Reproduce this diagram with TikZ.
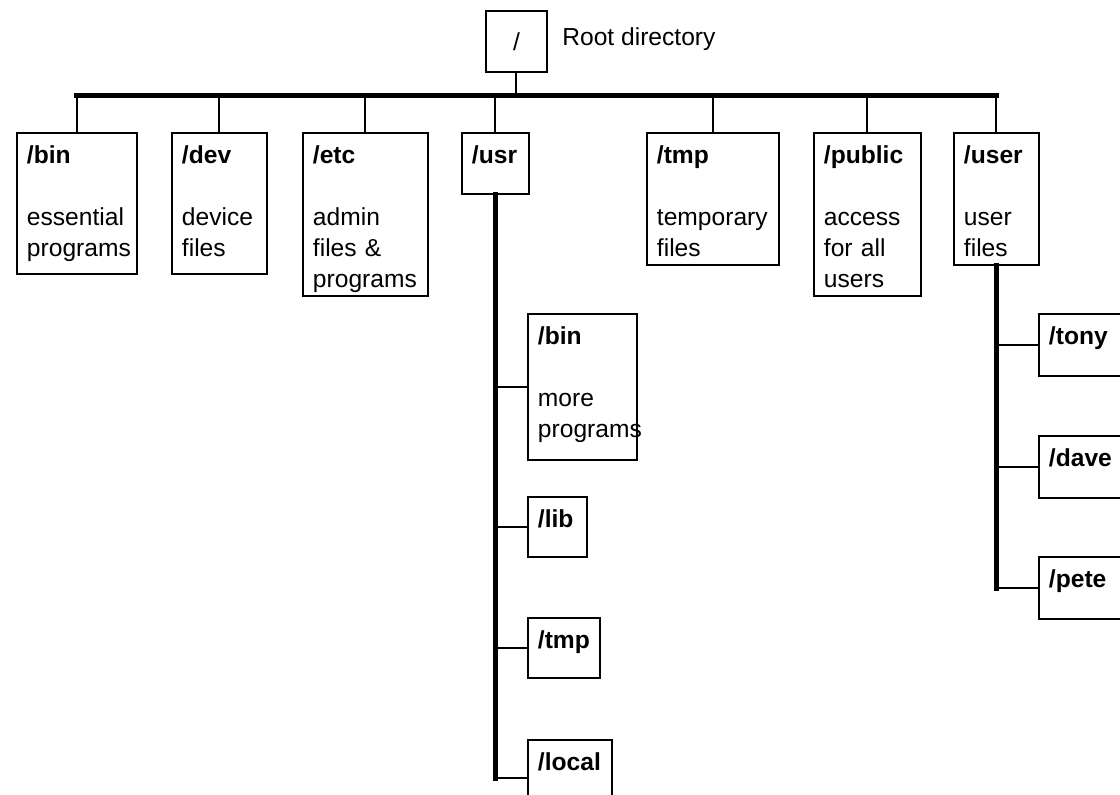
\documentclass[tikz,border=0pt]{standalone}
\usepackage{fontspec}
\setmainfont{Liberation Sans}
\newcommand{\dirfont}{\fontsize{14}{17.64}\selectfont}
\hyphenpenalty=10000
\tikzset{
  dirbox/.style = {draw, line width=1.1pt, anchor=north west, align=left,
                   inner xsep=0.2cm, inner ysep=0pt, text height=0.62cm,
                   font=\dirfont},
  rootbox/.style= {draw, line width=1.1pt, anchor=north west,
                   minimum size=1.22cm, inner sep=0pt, font=\dirfont},
  note/.style   = {anchor=base west, inner sep=0pt, font=\dirfont},
  trunk/.style  = {line width=3pt, line cap=rect},
  twig/.style   = {line width=1.1pt},
}

\begin{document}
\begin{tikzpicture}[x=0.02cm, y=-0.02cm]
  \clip (0,0) rectangle (1120,795);
  % root
  \node[rootbox] (root) at (485,10) {/};
  \node[note] (rootnote) at (562,45) {Root directory};
  \coordinate (bus) at (0,95.5);
  % top level directories
  \node[dirbox, text width=2.0cm, text depth=2.2cm] (bin) at (16,132) {\textbf{/bin}\\[0.62cm]essential\\programs};
  \node[dirbox, text width=1.5cm, text depth=2.2cm] (dev) at (171,132) {\textbf{/dev}\\[0.62cm]device\\files};
  \node[dirbox, text width=2.1cm, text depth=2.64cm] (etc) at (302,132) {\textbf{/etc}\\[0.62cm]admin\\files \&\\programs};
  \node[dirbox, text width=0.94cm, text depth=0.6cm] (usr) at (461,132) {\textbf{/usr}};
  \node[dirbox, text width=2.24cm, text depth=2.02cm] (tmp) at (646,132) {\textbf{/tmp}\\[0.62cm]temporary\\files};
  \node[dirbox, text width=1.74cm, text depth=2.64cm] (public) at (813,132) {\textbf{/public}\\[0.62cm]access\\for all\\users};
  \node[dirbox, text width=1.3cm, text depth=2.02cm] (user) at (953,132) {\textbf{/user}\\[0.62cm]user\\files};
  % below /usr
  \node[dirbox, text width=1.78cm, text depth=2.3cm] (usrbin) at (527,313) {\textbf{/bin}\\[0.62cm]more\\programs};
  \node[dirbox, text width=0.78cm, text depth=0.58cm] (usrlib) at (527,496) {\textbf{/lib}};
  \node[dirbox, text width=1.04cm, text depth=0.58cm] (usrtmp) at (527,617) {\textbf{/tmp}};
  \node[dirbox, text width=1.28cm, text depth=0.9cm] (usrlocal) at (527,739) {\textbf{/local}};
  % below /user
  \node[dirbox, text width=1.6cm, text depth=0.62cm] (tony) at (1038,313) {\textbf{/tony}};
  \node[dirbox, text width=1.6cm, text depth=0.62cm] (dave) at (1038,435) {\textbf{/dave}};
  \node[dirbox, text width=1.6cm, text depth=0.62cm] (pete) at (1038,556) {\textbf{/pete}};
  % bus and stems
  \draw[twig] (root.south) -- (root.south |- bus);
  \draw[trunk] (bin.north |- bus) -- (user.north |- bus);
  \foreach \d in {bin,dev,etc,usr,tmp,public,user}
    \draw[twig] (\d.north |- bus) -- (\d.north);
  % trunks
  \draw[trunk] (usr.south) -- (usr.south |- usrlocal.west);
  \foreach \d in {usrbin,usrlib,usrtmp,usrlocal}
    \draw[twig] (usr.south |- \d.west) -- (\d.west);
  \draw[trunk] (user.south) -- (user.south |- pete.west);
  \foreach \d in {tony,dave,pete}
    \draw[twig] (user.south |- \d.west) -- (\d.west);
\end{tikzpicture}
\end{document}
